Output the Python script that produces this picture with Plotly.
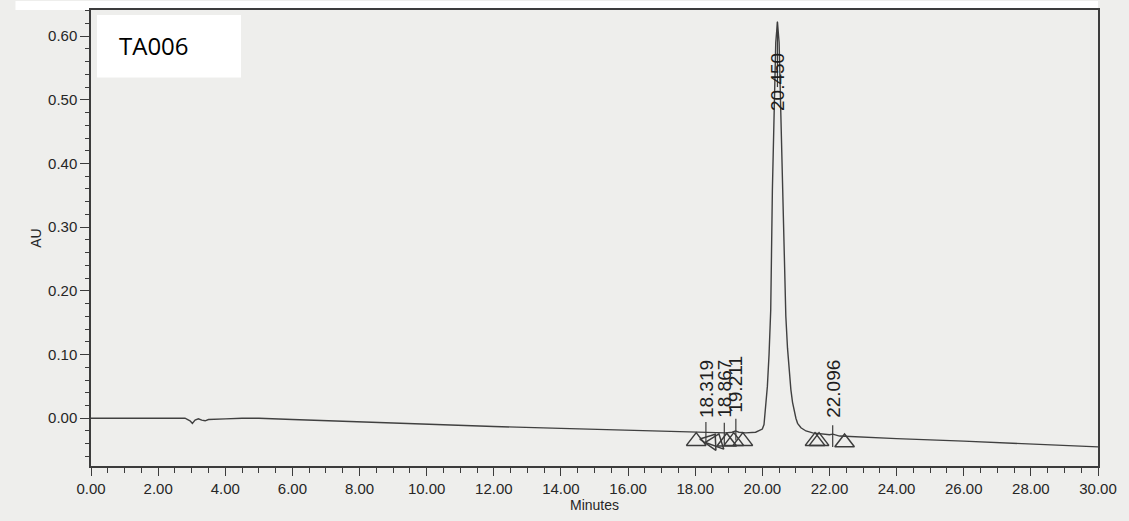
import plotly.graph_objects as go

# Chromatogram trace (retention time in minutes, absorbance in AU)
trace_min = [0.0, 1.0, 2.0, 2.8, 2.95, 3.02, 3.10, 3.20, 3.30, 3.40, 3.50, 3.70, 4.0, 4.5, 5.0,
             6.0, 7.0, 8.0, 10.0, 12.0, 14.0, 16.0, 18.0, 18.3, 18.9, 19.1, 19.2, 19.3, 19.5,
             19.8, 20.00, 20.05, 20.10, 20.15, 20.20, 20.25, 20.30, 20.35, 20.40, 20.45,
             20.50, 20.55, 20.60, 20.65, 20.70, 20.75, 20.80, 20.85, 20.90, 20.95, 21.00,
             21.05, 21.15, 21.30, 21.50, 22.00, 22.10, 22.30, 23.0, 24.0, 26.0, 28.0, 30.0]
trace_au = [0.000, 0.000, 0.000, 0.000, -0.004, -0.008, -0.003, -0.001, -0.003, -0.004, -0.002,
            -0.002, -0.001, 0.000, 0.000, -0.002, -0.004, -0.006, -0.010, -0.013, -0.016, -0.019,
            -0.022, -0.022, -0.023, -0.022, -0.020, -0.022, -0.023, -0.022, -0.017, -0.010,
            0.020, 0.050, 0.100, 0.170, 0.360, 0.500, 0.590, 0.622, 0.590, 0.480, 0.360, 0.240,
            0.160, 0.110, 0.070, 0.045, 0.025, 0.010, 0.000, -0.008, -0.015, -0.020, -0.023,
            -0.026, -0.025, -0.028, -0.030, -0.032, -0.036, -0.040, -0.045]

# Integrated peaks
peak_rt = [18.319, 18.867, 19.211, 20.450, 22.096]
peak_labels = ["18.319", "18.867", "19.211", "20.450", "22.096"]
peak_tick_top = [-0.006, -0.007, -0.001, 0.623, -0.011]
peak_tick_bottom = [-0.039, -0.042, -0.035, 0.520, -0.045]
label_base = [-0.003, -0.002, 0.006, 0.480, -0.003]

# Peak start / end markers
mark_rt = [18.03, 18.45, 18.62, 18.94, 19.15, 19.42, 21.57, 21.69, 22.45]
mark_au = [-0.036, -0.036, -0.037, -0.037, -0.036, -0.036, -0.036, -0.036, -0.038]
mark_angle = [0, 35, 20, 0, 0, 0, 0, 0, 0]

x_ticks = [0, 2, 4, 6, 8, 10, 12, 14, 16, 18, 20, 22, 24, 26, 28, 30]
y_ticks = [0.0, 0.1, 0.2, 0.3, 0.4, 0.5, 0.6]

ink = "#3c3c3c"
paper = "#eeeeec"

fig = go.Figure()

fig.add_trace(go.Scatter(x=trace_min, y=trace_au, mode="lines",
                         line=dict(color="#404040", width=1.4), hoverinfo="skip"))

for rt, top, bot in zip(peak_rt, peak_tick_top, peak_tick_bottom):
    fig.add_trace(go.Scatter(x=[rt, rt], y=[bot, top], mode="lines",
                             line=dict(color=ink, width=1.2), hoverinfo="skip"))

fig.add_trace(go.Scatter(x=mark_rt, y=mark_au, mode="markers",
                         marker=dict(symbol="triangle-up-open", size=17, angle=mark_angle,
                                     color=ink, line=dict(width=1.5, color=ink)),
                         hoverinfo="skip"))

for rt, lab, yb in zip(peak_rt, peak_labels, label_base):
    fig.add_annotation(x=rt, y=yb, text=lab, textangle=-90, showarrow=False,
                       xanchor="center", yanchor="bottom",
                       font=dict(family="Liberation Sans", size=19, color="#1e1e1e"))

# Sample name box
fig.add_shape(type="rect", xref="paper", yref="paper", x0=0.006, x1=0.149, y0=0.852, y1=0.989,
              fillcolor="white", line=dict(width=0), layer="above")
fig.add_annotation(xref="paper", yref="paper", x=0.026, y=0.923, text="TA006", showarrow=False,
                   xanchor="left", yanchor="middle",
                   font=dict(family="Open Sans", size=24, color="black"))

# White strip above the frame
fig.add_shape(type="rect", xref="paper", yref="paper", x0=-0.075, x1=1.0, y0=1.0, y1=1.02,
              fillcolor="white", line=dict(width=0), layer="below")

axis_font = dict(family="Liberation Sans", size=15, color="#262626")

fig.update_xaxes(range=[0, 30], tickvals=x_ticks, ticktext=[f"{v:.2f}" for v in x_ticks],
                 ticks="outside", ticklen=8, tickwidth=1.2, tickcolor=ink,
                 minor=dict(dtick=0.5, ticks="outside", ticklen=5, tickwidth=1.1, tickcolor=ink,
                            showgrid=False),
                 showline=True, linecolor=ink, linewidth=1.5, mirror=True,
                 showgrid=False, zeroline=False, tickfont=axis_font,
                 title=dict(text="Minutes", font=dict(family="Liberation Sans", size=14, color="#262626"),
                            standoff=4))
fig.update_yaxes(range=[-0.075, 0.641], tickvals=y_ticks, ticktext=[f"{v:.2f}" for v in y_ticks],
                 ticks="outside", ticklen=9, tickwidth=1.2, tickcolor=ink,
                 minor=dict(dtick=0.02, ticks="outside", ticklen=4, tickwidth=1.1, tickcolor=ink,
                            showgrid=False),
                 showline=True, linecolor=ink, linewidth=1.5, mirror=True,
                 showgrid=False, zeroline=False, tickfont=axis_font,
                 title=dict(text="AU", font=dict(family="Liberation Sans", size=14, color="#262626"),
                            standoff=3))

fig.update_layout(width=1129, height=521, margin=dict(l=91, r=31, t=8, b=55),
                  paper_bgcolor=paper, plot_bgcolor=paper, showlegend=False)

fig.write_html("out.html")
